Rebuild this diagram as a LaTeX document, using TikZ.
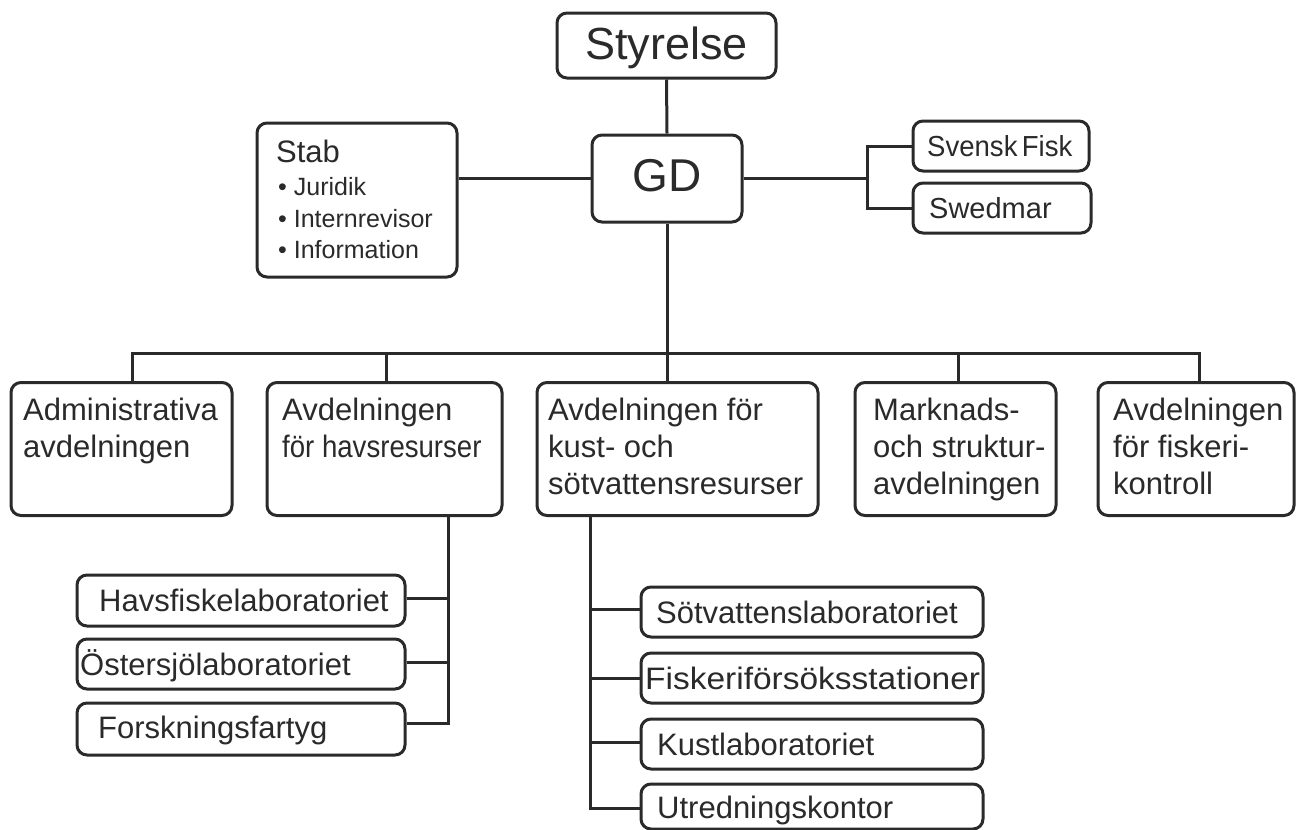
\documentclass[tikz,border=0pt]{standalone}
\usepackage{fontspec}
\setmainfont{Liberation Sans}
\usepackage{graphicx}
\definecolor{ink}{HTML}{2A2A2A}
\newcommand\myfs[1]{\fontsize{#1}{#1}\selectfont}
\tikzset{
  box/.style={draw=ink, line width=3pt, rounded corners=10pt, inner sep=0pt, fill=white},
  lbl/.style={inner sep=0pt, anchor=base west, text=ink, font=\myfs{31}},
  link/.style={draw=ink, line width=3pt},
}
\begin{document}
\begin{tikzpicture}[x=1pt,y=-1pt]
\useasboundingbox[fill=white] (0,0) rectangle (1304,830);

% --- top level
\node[box, minimum width=219pt, minimum height=65pt] (styr) at (666.5,45.5) {};
\node[lbl, anchor=base, font=\myfs{45}] (styrT) at (666.5,59) {Styrelse};
\node[box, minimum width=150pt, minimum height=87pt] (gd) at (667,178.5) {};
\node[lbl, anchor=base, font=\myfs{46}] (gdT) at (667,191) {GD};

% --- staff
\node[box, minimum width=200pt, minimum height=154pt] (stab) at (357,200) {};
\node[lbl] (stabT) at (276,162) {Stab};
\node[lbl, font=\myfs{25}] (stab1) at (278,195) {• Juridik};
\node[lbl, font=\myfs{25}] (stab2) at (278,227) {• Internrevisor};
\node[lbl, font=\myfs{25}] (stab3) at (278,258) {• Information};

% --- right side
\node[box, minimum width=176pt, minimum height=50pt] (sfisk) at (1001,146) {};
\node[lbl, font=\myfs{29}] (sfiskT) at (927,156) {\scalebox{0.95}[1]{Svensk\hspace{-0.12em} Fisk}};
\node[box, minimum width=178pt, minimum height=50pt] (swed) at (1002,208) {};
\node[lbl, font=\myfs{29}] (swedT) at (929,218) {Swedmar};

% --- departments
\node[box, minimum width=221pt, minimum height=133pt] (admin) at (121.5,449) {};
\node[lbl] (admin1) at (23,420) {Administrativa};
\node[lbl] (admin2) at (23,457) {avdelningen};

\node[box, minimum width=235pt, minimum height=133pt] (havs) at (384.5,449) {};
\node[lbl] (havs1) at (282,420) {Avdelningen};
\node[lbl] (havs2) at (282,457) {\scalebox{0.89}[1]{för havsresurser}};

\node[box, minimum width=281pt, minimum height=133pt] (kust) at (677.5,449) {};
\node[lbl] (kust1) at (548,420) {Avdelningen för};
\node[lbl] (kust2) at (548,457) {kust- och};
\node[lbl] (kust3) at (548,494) {sötvattensresurser};

\node[box, minimum width=201pt, minimum height=133pt] (mark) at (955.5,449) {};
\node[lbl] (mark1) at (873,420) {Marknads-};
\node[lbl] (mark2) at (873,457) {och struktur-};
\node[lbl] (mark3) at (873,494) {avdelningen};

\node[box, minimum width=196pt, minimum height=133pt] (fisk) at (1196,449) {};
\node[lbl] (fisk1) at (1113,420) {Avdelningen};
\node[lbl] (fisk2) at (1113,457) {för fiskeri-};
\node[lbl] (fisk3) at (1113,494) {kontroll};

% --- sea labs
\node[box, minimum width=328pt, minimum height=51pt] (hlab) at (241,600.5) {};
\node[lbl] (hlabT) at (99,611) {Havsfiskelaboratoriet};
\node[box, minimum width=328pt, minimum height=50pt] (olab) at (241,664) {};
\node[lbl] (olabT) at (80,675) {Östersjölaboratoriet};
\node[box, minimum width=328pt, minimum height=52pt] (forsk) at (241,729) {};
\node[lbl] (forskT) at (98,738) {Forskningsfartyg};

% --- coast labs
\node[box, minimum width=342pt, minimum height=50pt] (slab) at (812,612) {};
\node[lbl] (slabT) at (656,623) {Sötvattenslaboratoriet};
\node[box, minimum width=342pt, minimum height=50pt] (fstat) at (812,678) {};
\node[lbl] (fstatT) at (645,689) {\scalebox{1.08}[1]{Fiskeriförsöksstationer}};
\node[box, minimum width=342pt, minimum height=50pt] (klab) at (812,744) {};
\node[lbl] (klabT) at (657,755) {Kustlaboratoriet};
\node[box, minimum width=342pt, minimum height=45pt] (utr) at (812,806.5) {};
\node[lbl] (utrT) at (657,818) {Utredningskontor};

% --- connectors
\coordinate (busL) at (132,353);
\coordinate (busR) at (1199,353);
\coordinate (rj) at (867,178.5);
\coordinate (hv) at (448,515);
\coordinate (kv) at (590,515);

\draw[link] (styr.south) -- (gd.north);
\draw[link] (gd.west) -- (gd.west -| stab.east);
\draw[link] (gd.east) -- (rj);
\draw[link] (sfisk.west) -| (rj) |- (swed.west);
\draw[link] (gd.south) -- (gd.south |- busL);
\draw[link, line cap=rect] (busL) -- (busR);
\draw[link] (admin.north -| busL) -- (busL);
\draw[link] ([xshift=1.5pt]havs.north) -- ([xshift=1.5pt]havs.north |- busL);
\draw[link] ([xshift=-10.5pt]kust.north) -- ([xshift=-10.5pt]kust.north |- busL);
\draw[link] ([xshift=2.5pt]mark.north) -- ([xshift=2.5pt]mark.north |- busL);
\draw[link] (fisk.north -| busR) -- (busR);

\draw[link] (havs.south -| hv) |- ([yshift=6pt]forsk.east);
\draw[link] ([yshift=2pt]hlab.east) -- ([yshift=2pt]hlab.east -| hv);
\draw[link] ([yshift=2pt]olab.east) -- ([yshift=2pt]olab.east -| hv);

\draw[link] (kust.south -| kv) |- ([yshift=-1.5pt]utr.west);
\draw[link] ([yshift=3pt]slab.west) -- ([yshift=3pt]slab.west -| kv);
\draw[link] (fstat.west) -- (fstat.west -| kv);
\draw[link] ([yshift=2pt]klab.west) -- ([yshift=2pt]klab.west -| kv);
\end{tikzpicture}
\end{document}
